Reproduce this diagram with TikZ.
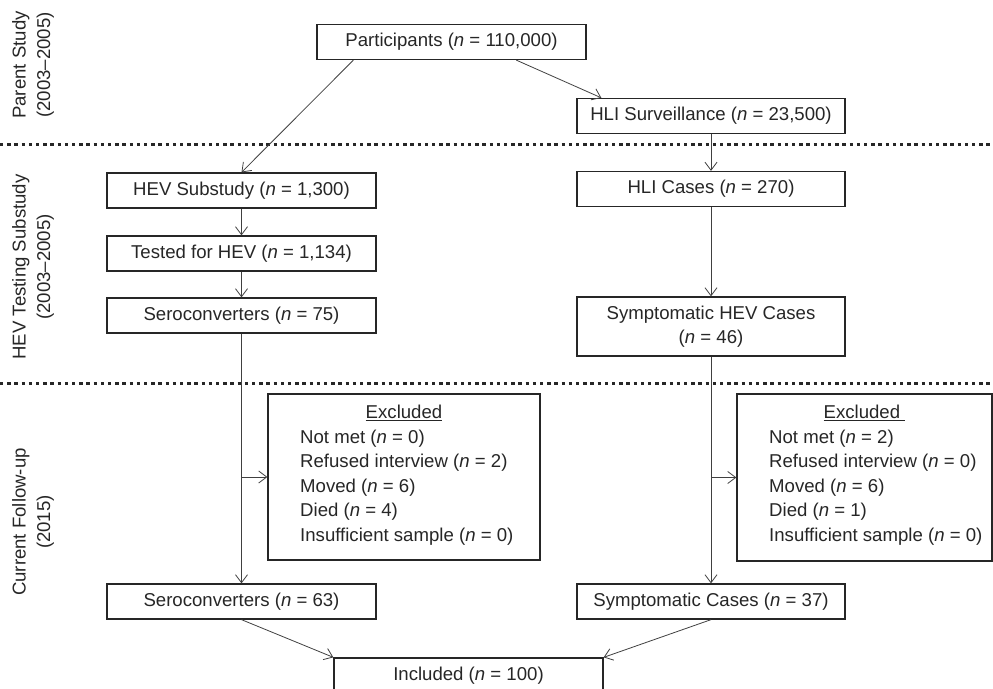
\documentclass[tikz,border=0pt]{standalone}
\usepackage{fontspec}
\setmainfont{Liberation Sans}
\usetikzlibrary{arrows.meta,calc}
\definecolor{ink}{HTML}{262626}
\definecolor{wire}{HTML}{404040}
\begin{document}
\begin{tikzpicture}[x=1pt,y=-1pt,
  every node/.style={font=\fontsize{18.6}{24.4}\selectfont, text=ink},
  box/.style={draw=ink, line width=1.3pt, minimum width=269pt, minimum height=35pt, inner sep=0pt, align=center},
  link/.style={draw=wire, line width=0.8pt, -{Straight Barb[length=8pt,width=12pt]}},
  sep/.style={line width=3pt, dash pattern=on 3.4pt off 3.8pt, draw=ink},
  side/.style={rotate=90, align=center, inner sep=0pt}]
\useasboundingbox (0,0) rectangle (993,688);
\clip (0,0) rectangle (993,688);

% separators
\coordinate (s1a) at (0,144); \coordinate (s1b) at (993,144);
\coordinate (s2a) at (0,383); \coordinate (s2b) at (993,383);
\draw[sep] (s1a) -- (s1b);
\draw[sep] (s2a) -- (s2b);

% side labels
\node[side] (lab1) at (33,65) {Parent Study\\(2003–2005)};
\node[side] (lab2) at (33,267) {HEV Testing Substudy\\(2003–2005)};
\node[side] (lab3) at (33,522) {Current Follow-up\\(2015)};

% boxes
\node[box] (part) at (451.5,42) {Participants (\textit{n} = 110,000)};
\node[box, minimum width=268pt] (hlis) at (711,116) {HLI Surveillance (\textit{n} = 23,500)};
\node[box, minimum width=268pt] (hlic) at (711,189) {HLI Cases (\textit{n} = 270)};
\node[box] (hevs) at (241.5,190.5) {HEV Substudy (\textit{n} = 1,300)};
\node[box] (test) at (241.5,253.5) {Tested for HEV (\textit{n} = 1,134)};
\node[box] (ser75) at (241.5,315.5) {Seroconverters (\textit{n} = 75)};
\node[box, minimum width=268pt, minimum height=59pt] (symhev) at (711,326.5) {Symptomatic HEV Cases\\(\textit{n} = 46)};

\node[box, minimum width=272pt, minimum height=166pt] (exL) at (404,477) {};
\node[box, minimum width=255pt, minimum height=167pt] (exR) at (864.5,477.5) {};
\node (exLt) at (404,413) {\underline{Excluded}};
\node[anchor=west, align=left, inner sep=0pt] (exLl) at (300,487.5) {Not met (\textit{n} = 0)\\Refused interview (\textit{n} = 2)\\Moved (\textit{n} = 6)\\Died (\textit{n} = 4)\\Insufficient sample (\textit{n} = 0)};
\node (exRt) at (864.5,413) {\underline{Excluded\ }};
\node[anchor=west, align=left, inner sep=0pt] (exRl) at (769,487.5) {Not met (\textit{n} = 2)\\Refused interview (\textit{n} = 0)\\Moved (\textit{n} = 6)\\Died (\textit{n} = 1)\\Insufficient sample (\textit{n} = 0)};

\node[box] (ser63) at (241.5,601.5) {Seroconverters (\textit{n} = 63)};
\node[box, minimum width=268pt] (symc) at (711,601.5) {Symptomatic Cases (\textit{n} = 37)};
\node[box] (incl) at (468.5,675.5) {Included (\textit{n} = 100)};

% connectors
\draw[link] ([xshift=37pt]part.south west) -- (hevs.north);
\draw[link] ([xshift=200pt]part.south west) -- ([xshift=25pt]hlis.north west);
\draw[link] (hlis) -- (hlic);
\draw[link] (hevs) -- (test);
\draw[link] (test) -- (ser75);
\draw[link] (ser75) -- (ser63);
\coordinate (bL) at (ser75.south |- exL.west);
\draw[link] (bL) -- (exL.west);
\draw[link] (hlic) -- (symhev);
\draw[link] (symhev) -- (symc);
\coordinate (bR) at (symhev.south |- exR.west);
\draw[link] (bR) -- (exR.west);
\draw[link] (ser63.south) -- (incl.north west);
\draw[link] (symc.south) -- (incl.north east);
\end{tikzpicture}
\end{document}
